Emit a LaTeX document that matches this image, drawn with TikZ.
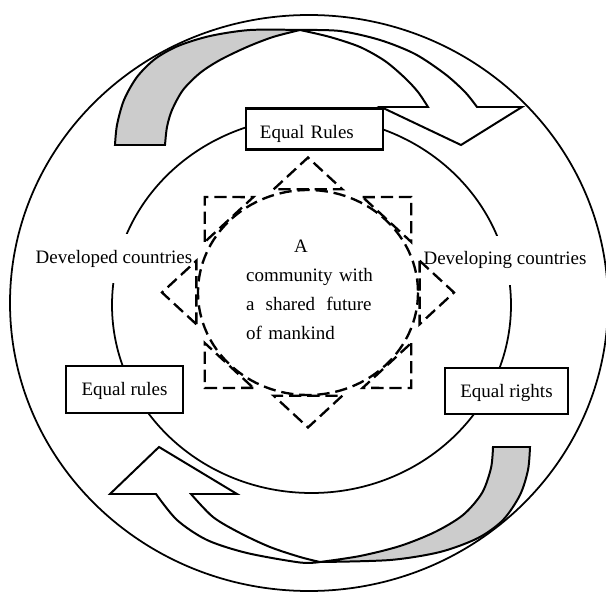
\documentclass[tikz,border=0pt]{standalone}
\usepackage{fontspec}
\setmainfont{Liberation Serif}

\begin{document}
\begin{tikzpicture}[x=0.03cm, y=-0.03cm,
  every node/.style={font=\fontsize{16.2pt}{24.5pt}\selectfont},
  ring/.style={draw, line width=1.5pt},
  bandline/.style={draw, line width=1.7pt, line join=miter},
  starline/.style={draw, line width=2pt, dash pattern=on 10.5pt off 5pt},
  rulebox/.style={draw, fill=white, line width=2.2pt, text depth=0pt, text height=10.6pt},
  sidetext/.style={fill=white, inner xsep=1pt, inner ysep=0.48cm}]
\useasboundingbox (0,0) rectangle (606,592);
\clip (0,0) rectangle (606,592);
% rings
\draw[ring] (309,303) ellipse [x radius=299, y radius=288];
\draw[ring] (311.5,305) ellipse [x radius=199.5, y radius=188];
% upper curved arrow
\draw[bandline, fill=black!20]
  plot[smooth] coordinates {(115,145) (117,125) (124,100) (137,77) (155,59) (178,46) (210,36) (250,30) (300,30)}
  -- plot[smooth] coordinates {(300,30) (273,37) (247,47) (220,60) (200,73) (183,90) (172,110) (167,127) (165,145)}
  -- cycle;
\draw[bandline, fill=white]
  plot[smooth] coordinates {(300,30) (340,31) (380,40) (415,54) (445,74) (465,92) (477,107)}
  -- (522,107) -- (461,145) -- (381,107) -- (428,107)
  -- plot[smooth] coordinates {(428,107) (418,92) (405,78) (385,61) (360,47) (330,37) (300,30)}
  -- cycle;
% lower curved arrow
\draw[bandline, fill=black!20]
  plot[smooth] coordinates {(530,447) (528,470) (520,495) (503,520) (478,538) (440,552) (390,560) (320,562)}
  -- plot[smooth] coordinates {(320,562) (360,556) (400,546) (435,532) (463,515) (482,493) (491,468) (493,447)}
  -- cycle;
\draw[bandline, fill=white]
  plot[smooth] coordinates {(320,562) (300,562.5) (247,553) (207,540) (177,520) (156,494)}
  -- (110,494) -- (159,447) -- (237,494) -- (191,494)
  -- plot[smooth] coordinates {(191,494) (213,517) (240,533) (270,547) (300,557) (320,562)}
  -- cycle;
% side labels
\node[sidetext, anchor=base] (developed) at (114,263.3) {Developed countries};
\node[sidetext, anchor=base] (developing) at (505,265) {Developing countries};
% dashed star
\draw[starline] (308,292.5) ellipse [x radius=110, y radius=102.5];
\begin{scope}[shift={(308,292.5)}, xscale=1.043, yscale=0.964]
  \foreach \a in {0,45,...,315}
    \draw[starline] (\a-17.1:112) -- (\a:140) -- (\a+17.1:112) -- cycle;
\end{scope}
% boxes
\node[rulebox, minimum width=4.11cm, minimum height=1.23cm, text width=3.27cm,
  align=left, inner xsep=0.42cm, text height=15.9pt] (rulestop) at (314.5,129) {Equal Rules};
\node[rulebox, minimum width=3.51cm, minimum height=1.41cm] (rulesleft) at (124.5,389.5) {Equal rules};
\node[rulebox, minimum width=3.69cm, minimum height=1.38cm] (rightsright) at (506.5,391) {Equal rights};
% centre text
\node[anchor=base west, text width=4.2cm, align=left, inner sep=0pt] (future) at (246,253)
  {\hspace*{1.44cm}A\\community with\\\makebox[3.76cm][l]{a\hfill shared\hfill future}\\of mankind};
\end{tikzpicture}
\end{document}
